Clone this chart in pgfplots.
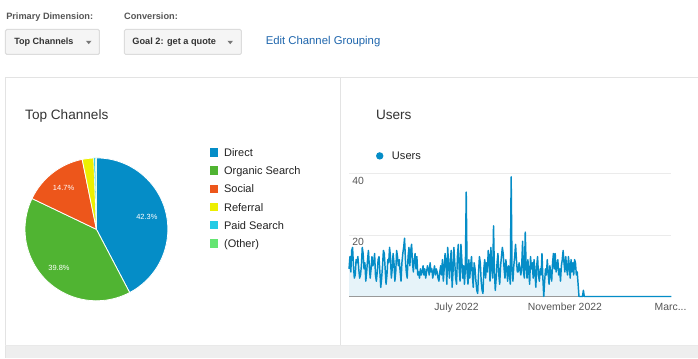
\documentclass[border=0pt]{standalone}
\usepackage{pgfplots}
\pgfplotsset{compat=1.18}
\usepackage{pgfplotstable}
\usepackage{fontspec}
\setmainfont{Liberation Sans}
\definecolor{gaBlue}{HTML}{058DC7}
\definecolor{gaGreen}{HTML}{50B432}
\definecolor{gaOrange}{HTML}{ED561B}
\definecolor{gaYellow}{HTML}{EDEF00}
\definecolor{gaCyan}{HTML}{24CBE5}
\definecolor{gaLGreen}{HTML}{64E572}
\definecolor{titletext}{HTML}{333333}
\definecolor{legtext}{HTML}{222222}
\definecolor{ticktext}{HTML}{555555}
\definecolor{bordergray}{HTML}{E3E3E3}
\definecolor{stripgray}{HTML}{EEEEEE}
\definecolor{btnfill}{HTML}{F5F5F5}
\definecolor{btnborder}{HTML}{DCDCDC}
\definecolor{arrowgray}{HTML}{777777}
\definecolor{linkblue}{HTML}{1F66AD}
\definecolor{labgray}{HTML}{555555}
\definecolor{gridgray}{HTML}{EBEBEB}
\definecolor{areafill}{HTML}{E6F3F9}

\pgfplotstableread{
day users
0 9
1 13
2 8
3 15
4 16
5 10
6 6
7 7
8 12
9 11
10 13
11 9
12 6
13 7
14 10
15 16
16 14
17 9
18 11
19 5
20 8
21 12
22 15
23 10
24 6
25 9
26 13
27 10
28 11
29 14
30 7
31 5
32 8
33 12
34 13
35 8
36 3
37 6
38 10
39 15
40 14
41 9
42 4
43 7
44 12
45 11
46 16
47 13
48 6
49 9
50 14
51 11
52 5
53 8
54 15
55 13
56 10
57 12
58 8
59 5
60 11
61 14
62 16
63 19
64 12
65 8
66 6
67 13
68 16
69 10
70 15
71 17
72 11
73 8
74 12
75 14
76 9
77 13
78 7
79 8
80 6
81 9
82 7
83 8
84 10
85 7
86 9
87 6
88 8
89 10
90 9
91 7
92 11
93 8
94 9
95 6
96 8
97 10
98 7
99 9
100 8
101 6
102 5
103 8
104 10
105 7
106 12
107 5
108 9
109 14
110 11
111 4
112 16
113 10
114 6
115 12
116 15
117 3
118 8
119 16
120 11
121 6
122 4
123 13
124 17
125 9
126 5
127 17
128 12
129 6
130 10
131 4
132 9
133 34
134 8
135 4
136 12
137 6
138 10
139 13
140 7
141 3
142 11
143 9
144 5
145 2
146 1
147 8
148 13
149 11
150 5
151 2
152 1
153 9
154 12
155 6
156 11
157 8
158 15
159 13
160 5
161 16
162 9
163 6
164 23
165 8
166 2
167 6
168 11
169 14
170 7
171 4
172 10
173 13
174 16
175 14
176 9
177 6
178 12
179 9
180 5
181 10
182 8
183 4
184 39
185 9
186 5
187 10
188 13
189 17
190 12
191 8
192 8
193 11
194 9
195 7
196 10
197 18
198 8
199 6
200 21
201 10
202 6
203 12
204 8
205 4
206 13
207 9
208 11
209 6
210 12
211 8
212 3
213 10
214 13
215 7
216 5
217 9
218 7
219 14
220 6
221 0
222 5
223 9
224 7
225 12
226 8
227 4
228 10
229 7
230 5
231 11
232 14
233 9
234 14
235 8
236 10
237 12
238 7
239 9
240 5
241 10
242 12
243 15
244 11
245 8
246 13
247 9
248 7
249 13
250 10
251 6
252 12
253 8
254 11
255 7
256 12
257 11
258 7
259 8
260 4
261 0
262 0
263 0
264 0
265 0
266 2
267 0
366 0
}\usersdata

% pie shares (percent)
\pgfmathsetmacro\aA{90}
\pgfmathsetmacro\aB{\aA-42.3*3.6}
\pgfmathsetmacro\aC{\aB-39.8*3.6}
\pgfmathsetmacro\aD{\aC-14.7*3.6}
\pgfmathsetmacro\aE{\aD-2.6*3.6}
\pgfmathsetmacro\aF{\aE-0.4*3.6}
\pgfmathsetmacro\aG{\aF-0.2*3.6}

\begin{document}
\begin{tikzpicture}[x=0.75pt,y=-0.75pt]
% background
\fill[white] (0,0) rectangle (698,358);
\fill[stripgray] (5.5,346) rectangle (698,358);
\draw[bordergray, line width=0.75pt] (5.5,78) -- (698,78);
\draw[bordergray, line width=0.75pt] (5.5,78) -- (5.5,358);
\draw[bordergray, line width=0.75pt] (340.5,78) -- (340.5,346);
\draw[bordergray!80, line width=0.5pt] (5.5,346) -- (698,346);

% top controls
\node[anchor=base west, inner sep=0, text=labgray, font=\bfseries\fontsize{6.9}{8}\selectfont] at (6,19.3) {Primary Dimension:};
\node[anchor=base west, inner sep=0, text=labgray, font=\bfseries\fontsize{6.9}{8}\selectfont] at (124,19.3) {Conversion:};
\draw[fill=btnfill, draw=btnborder, line width=0.75pt, rounded corners=1pt] (5.5,29.5) rectangle (99.5,54.5);
\draw[fill=btnfill, draw=btnborder, line width=0.75pt, rounded corners=1pt] (124.5,29.5) rectangle (241.5,54.5);
\node[anchor=base west, inner sep=0, text=titletext, font=\bfseries\fontsize{6.8}{8}\selectfont] at (14,45) {Top Channels};
\node[anchor=base west, inner sep=0, text=titletext, font=\bfseries\fontsize{6.9}{8}\selectfont] at (132.3,45) {Goal 2: get a quote};
\fill[arrowgray] (86,40.8) -- (91.6,40.8) -- (88.8,44.2) -- cycle;
\fill[arrowgray] (227.6,40.8) -- (233.2,40.8) -- (230.4,44.2) -- cycle;
\node[anchor=base west, inner sep=0, text=linkblue, font=\fontsize{8.5}{10}\selectfont] at (265.7,45) {Edit Channel Grouping};

% panel titles
\node[anchor=base west, inner sep=0, text=titletext, font=\fontsize{10.2}{12}\selectfont] at (25,119.3) {Top Channels};
\node[anchor=base west, inner sep=0, text=titletext, font=\fontsize{10.2}{12}\selectfont] at (376,119.3) {Users};

% pie legend
\foreach \c/\t [count=\i from 0] in {gaBlue/Direct, gaGreen/Organic Search, gaOrange/Social, gaYellow/Referral, gaCyan/Paid Search, gaLGreen/(Other)}{
  \fill[\c] (210,148.3+18.2*\i) rectangle (218.4,156.7+18.2*\i);
  \node[anchor=base west, inner sep=0, text=legtext, font=\fontsize{8.25}{9.5}\selectfont] at (224,156.7+18.2*\i) {\t};
}

% users legend
\fill[gaBlue] (380,156) circle[radius=3.7];
\node[anchor=base west, inner sep=0, text=legtext, font=\fontsize{8.3}{10}\selectfont] at (392,160) {Users};

% pie chart
\begin{axis}[hide axis, scale only axis, width=107.25pt, height=107.25pt,
  xmin=-1, xmax=1, ymin=-1, ymax=1, at={(72.375pt,-172.125pt)}, anchor=center, clip=false]
\fill[gaBlue, draw=white, line width=0.6pt] (axis cs:0,0) -- ++(\aA:53.6pt) arc[start angle=\aA, end angle=\aB, radius=53.6pt] -- cycle;
\fill[gaGreen, draw=white, line width=0.6pt] (axis cs:0,0) -- ++(\aB:53.6pt) arc[start angle=\aB, end angle=\aC, radius=53.6pt] -- cycle;
\fill[gaOrange, draw=white, line width=0.6pt] (axis cs:0,0) -- ++(\aC:53.6pt) arc[start angle=\aC, end angle=\aD, radius=53.6pt] -- cycle;
\fill[gaYellow, draw=white, line width=0.6pt] (axis cs:0,0) -- ++(\aD:53.6pt) arc[start angle=\aD, end angle=\aE, radius=53.6pt] -- cycle;
\fill[gaCyan, draw=white, line width=0.3pt] (axis cs:0,0) -- ++(\aE:53.6pt) arc[start angle=\aE, end angle=\aF, radius=53.6pt] -- cycle;
\fill[gaLGreen, draw=white, line width=0.3pt] (axis cs:0,0) -- ++(\aF:53.6pt) arc[start angle=\aF, end angle=\aG, radius=53.6pt] -- cycle;
\node[text=white, inner sep=0, font=\fontsize{5.6}{6.5}\selectfont] at (axis cs:0.706,0.179) {42.3\%};
\node[text=white, inner sep=0, font=\fontsize{5.6}{6.5}\selectfont] at (axis cs:-0.460,0.580) {14.7\%};
\node[text=white, inner sep=0, font=\fontsize{5.6}{6.5}\selectfont] at (axis cs:-0.524,-0.538) {39.8\%};
\end{axis}

% users line chart
\begin{axis}[scale only axis, width=242pt, height=92.1pt,
  at={(261.975pt,-222.525pt)}, anchor=south west,
  xmin=0, xmax=366, ymin=0, ymax=40, clip=false,
  axis line style={draw=none},
  ytick={20,40}, ymajorgrids, grid style={gridgray, line width=0.75pt},
  xtick={122,245,365}, xticklabels={July 2022, November 2022, {Marc{.}{.}{.}}},
  major tick length=0pt,
  /pgf/number format/assume math mode=true,
  tick label style={text=ticktext, font=\fontsize{7.8}{9}\selectfont},
  yticklabel style={anchor=north west, inner sep=0pt, xshift=2.2pt, yshift=-2.2pt},
  xticklabel style={yshift=-1.5pt},
]
\addplot[draw=none, fill=areafill] table[x=day, y=users] {\usersdata} \closedcycle;
\draw[gray!80, line width=0.75pt] (axis cs:0,0) -- (axis cs:366,0);
\addplot[gaBlue, line width=1.1pt, line join=round, mark=none] table[x=day, y=users] {\usersdata};
\end{axis}
\end{tikzpicture}
\end{document}
